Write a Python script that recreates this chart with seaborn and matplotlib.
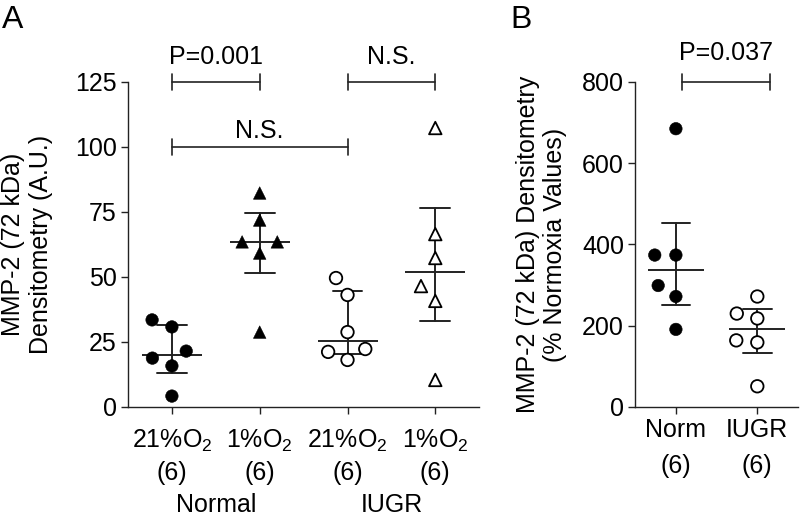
import numpy as np
import pandas as pd
import matplotlib.pyplot as plt
import matplotlib.patheffects as pe
import seaborn as sns

sns.set_style("ticks")
plt.rcParams["font.family"] = ["Liberation Sans", "DejaVu Sans"]
plt.rcParams["mathtext.fontset"] = "custom"
plt.rcParams["mathtext.rm"] = "Liberation Sans"
for k in ("text.color", "axes.labelcolor", "xtick.color", "ytick.color"):
    plt.rcParams[k] = "black"

# === Panel A: MMP-2 densitometry (A.U.) ===
a_groups = ["N21", "N1", "I21", "I1"]
a_ticklabels = ["21%O$_\\mathregular{2}$\n(6)", "1%O$_\\mathregular{2}$\n(6)",
                "21%O$_\\mathregular{2}$\n(6)", "1%O$_\\mathregular{2}$\n(6)"]
norm_21 = [33.5, 30.8, 21.5, 18.8, 15.8, 4.2]
norm_1 = [82.3, 71.9, 63.5, 63.5, 59.2, 28.8]
iugr_21 = [49.6, 43.1, 28.8, 22.3, 21.2, 18.1]
iugr_1 = [107.3, 66.5, 57.3, 46.5, 40.8, 10.4]
a_markers = ["o", "^", "o", "^"]
a_filled = [True, True, False, False]

# brackets: (x from, x to, bracket y, text y, text)
a_brackets = [(0, 1, 125, 134.6, "P=0.001"),
              (2, 3, 125, 134.6, "N.S."),
              (0, 2, 100, 106.2, "N.S.")]

# === Panel B: % normoxia values ===
b_groups = ["Norm", "IUGR"]
b_ticklabels = ["Norm\n(6)", "IUGR\n(6)"]
b_norm = [685, 374, 374, 299, 272, 191]
b_iugr = [272, 230, 218, 164, 159, 51]
b_markers = ["o", "o"]
b_filled = [True, False]
b_brackets = [(0.07, 1.16, 800, 871, "P=0.037")]

dfA = pd.DataFrame({
    "group": np.repeat(a_groups, 6),
    "value": norm_21 + norm_1 + iugr_21 + iugr_1,
})
dfB = pd.DataFrame({
    "group": np.repeat(b_groups, 6),
    "value": b_norm + b_iugr,
})


def iqr(v):
    # GraphPad style quartiles
    return (np.percentile(v, 25, method="weibull"),
            np.percentile(v, 75, method="weibull"))


line_col = "#222222"

fig = plt.figure(figsize=(8, 5.18), dpi=100)
axA = fig.add_axes([0.16, 0.2143, 0.439, 0.6274])
axB = fig.add_axes([0.794, 0.2143, 0.2035, 0.6274])


def draw_panel(ax, df, groups, markers, filled, med_size, capsize):
    for g, m, f in zip(groups, markers, filled):
        sub = df[df["group"] == g]
        n_before = len(ax.collections)
        # transparent wide edge only widens the swarm spacing, the visible
        # outline comes from the stroke effect
        sns.swarmplot(data=sub, x="group", y="value", order=groups, ax=ax,
                      marker=m, size=9,
                      color="black" if f else "white",
                      edgecolor=(0, 0, 0, 0), linewidth=5.5)
        for coll in ax.collections[n_before:]:
            coll.set_path_effects(
                [pe.Stroke(linewidth=0.4 if f else 1.3, foreground="black")])
    sns.pointplot(data=df, x="group", y="value", order=groups, ax=ax,
                  estimator="median", errorbar=iqr, capsize=capsize,
                  color=line_col, marker="_", markersize=med_size,
                  markeredgewidth=1.4, linestyle="none",
                  err_kws={"linewidth": 1.4})


def draw_brackets(ax, brackets, cap):
    for x1, x2, y, ty, txt in brackets:
        ax.plot([x1, x2], [y, y], color=line_col, lw=1.2, clip_on=False)
        for xx in (x1, x2):
            ax.plot([xx, xx], [y - cap, y + cap], color=line_col, lw=1.2, clip_on=False)
        ax.text((x1 + x2) / 2, ty, txt, ha="center", va="center", fontsize=18)


draw_panel(axA, dfA, a_groups, a_markers, a_filled, 43, 0.34)
draw_panel(axB, dfB, b_groups, b_markers, b_filled, 40, 0.35)

axA.set_ylim(0, 125)
axA.set_yticks(range(0, 126, 25))
axA.set_xlim(-0.5, 3.5)
axA.set_xticks(range(4), a_ticklabels)
axA.set_ylabel("MMP-2 (72 kDa)\nDensitometry (A.U.)", fontsize=18)
axA.yaxis.set_label_coords(-0.214, 0.5)
axA.text(0.5, -0.302, "Normal", transform=axA.get_xaxis_transform(),
         ha="center", va="center", fontsize=18)
axA.text(2.5, -0.302, "IUGR", transform=axA.get_xaxis_transform(),
         ha="center", va="center", fontsize=18)
draw_brackets(axA, a_brackets, 3)

axB.set_ylim(0, 800)
axB.set_yticks(range(0, 801, 200))
axB.set_xlim(-0.5, 1.5)
axB.set_xticks(range(2), b_ticklabels)
axB.set_ylabel("MMP-2 (72 kDa) Densitometry\n(% Normoxia Values)", fontsize=18)
axB.yaxis.set_label_coords(-0.417, 0.5)
draw_brackets(axB, b_brackets, 20)

for ax in (axA, axB):
    ax.set_xlabel("")
    sns.despine(ax=ax)
    for s in ("left", "bottom"):
        ax.spines[s].set_linewidth(1.0)
        ax.spines[s].set_color(line_col)
    ax.tick_params(direction="out", length=5, width=1.0, color=line_col,
                   labelsize=18, pad=3)
axA.tick_params(axis="x", pad=10)
for lab in axA.get_xticklabels():
    lab.set_linespacing(1.35)
for lab in axB.get_xticklabels():
    lab.set_linespacing(1.65)

fig.text(0.003, 0.99, "A", fontsize=23, va="top", ha="left")
fig.text(0.638, 0.99, "B", fontsize=23, va="top", ha="left")

fig.savefig("out.png", dpi=100)
